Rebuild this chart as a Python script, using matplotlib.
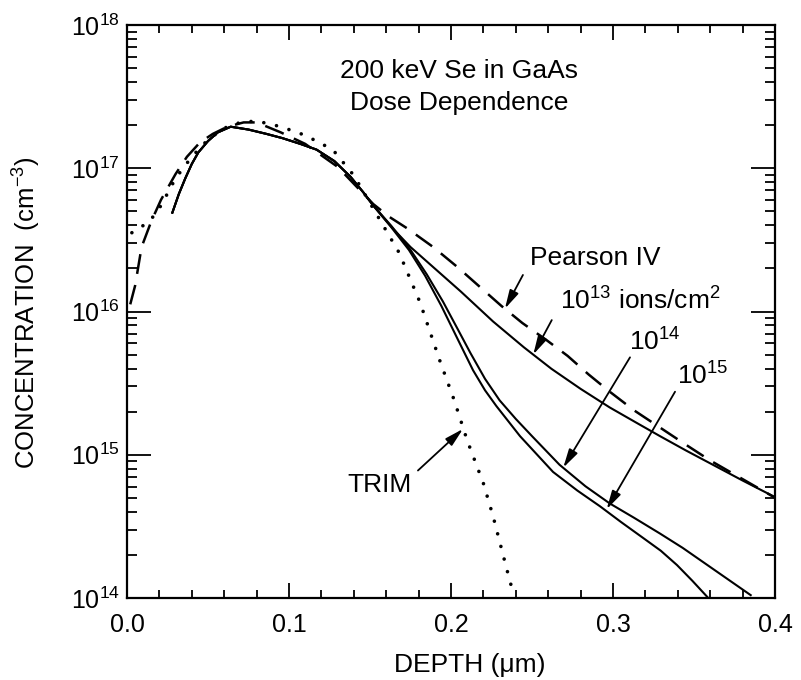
"""Se implant profiles in GaAs: TRIM, Pearson IV and measured dose dependence."""

import matplotlib

matplotlib.use("Agg")

import matplotlib.pyplot as plt  # noqa: E402
import numpy as np  # noqa: E402
from matplotlib.ticker import LogLocator, MultipleLocator  # noqa: E402

plt.rcParams["font.family"] = ["Liberation Sans", "DejaVu Sans"]
plt.rcParams["mathtext.fontset"] = "custom"
plt.rcParams["mathtext.rm"] = "Liberation Sans"
plt.rcParams["mathtext.it"] = "Liberation Sans:italic"
plt.rcParams["mathtext.bf"] = "Liberation Sans:bold"

# depth in um, concentration as log10(cm^-3)
pearson_depth = [0.002, 0.005, 0.009, 0.015, 0.021, 0.030, 0.037, 0.045, 0.053,
                 0.062, 0.072, 0.080, 0.095, 0.110, 0.130, 0.141, 0.152, 0.162,
                 0.173, 0.189, 0.204, 0.218, 0.231, 0.244, 0.259, 0.272, 0.285,
                 0.298, 0.313, 0.329, 0.345, 0.360, 0.380, 0.400]
pearson_log = [16.05, 16.18, 16.45, 16.63, 16.78, 16.96, 17.08, 17.18, 17.24,
               17.29, 17.32, 17.32, 17.25, 17.17, 17.01, 16.88, 16.75, 16.66,
               16.58, 16.45, 16.31, 16.17, 16.04, 15.92, 15.80, 15.69, 15.56,
               15.44, 15.31, 15.19, 15.07, 14.96, 14.83, 14.70]

trim_depth = [0.003, 0.010, 0.016, 0.021, 0.030, 0.040, 0.050, 0.060, 0.070,
              0.080, 0.095, 0.110, 0.127, 0.140, 0.154, 0.168, 0.181, 0.193,
              0.202, 0.210, 0.220, 0.226, 0.234, 0.238]
trim_log = [16.55, 16.60, 16.66, 16.74, 16.93, 17.08, 17.20, 17.28, 17.32,
            17.33, 17.29, 17.23, 17.13, 16.95, 16.68, 16.41, 16.06, 15.66,
            15.38, 15.10, 14.80, 14.57, 14.22, 14.05]

# measured profiles share the same near-surface part
head_depth = [0.028, 0.032, 0.036, 0.040, 0.044, 0.050, 0.056, 0.064, 0.075,
              0.086, 0.096, 0.107, 0.117, 0.128, 0.138, 0.146, 0.152]
head_log = [16.69, 16.82, 16.93, 17.03, 17.11, 17.19, 17.25, 17.29, 17.27,
            17.24, 17.21, 17.17, 17.13, 17.05, 16.94, 16.83, 16.74]

d13_depth = [0.164, 0.175, 0.185, 0.206, 0.226, 0.245, 0.262, 0.280, 0.298,
             0.315, 0.329, 0.345, 0.360, 0.380, 0.399]
d13_log = [16.58, 16.45, 16.35, 16.14, 15.93, 15.75, 15.60, 15.46, 15.33,
           15.22, 15.13, 15.03, 14.94, 14.82, 14.71]

d14_depth = [0.163, 0.175, 0.185, 0.195, 0.204, 0.212, 0.221, 0.230, 0.240,
             0.250, 0.267, 0.283, 0.298, 0.313, 0.329, 0.343, 0.357, 0.371,
             0.385]
d14_log = [16.60, 16.43, 16.26, 16.07, 15.88, 15.71, 15.53, 15.38, 15.25,
           15.13, 14.93, 14.78, 14.66, 14.56, 14.45, 14.35, 14.24, 14.13,
           14.02]

d15_depth = [0.163, 0.174, 0.184, 0.194, 0.204, 0.2136, 0.221, 0.228, 0.2426,
             0.263, 0.278, 0.292, 0.305, 0.3185, 0.3295, 0.3395, 0.349, 0.358,
             0.362]
d15_log = [16.59, 16.43, 16.25, 16.04, 15.81, 15.59, 15.45, 15.34, 15.13,
           14.88, 14.75, 14.64, 14.53, 14.42, 14.33, 14.23, 14.12, 14.01,
           13.96]

FS = 18
INK = "black"


def conc(vals):
    return 10.0 ** np.asarray(vals)


fig = plt.figure(figsize=(8.01, 6.8), dpi=100)
fig.patch.set_facecolor("white")
ax = fig.add_axes([127 / 801, 1 - 598 / 680, 648 / 801, 573 / 680])

ax.plot(pearson_depth, conc(pearson_log), color=INK, lw=1.8,
        linestyle=(0, (8, 4.5)))
ax.plot(trim_depth, conc(trim_log), color=INK, lw=2.6,
        linestyle=(0, (0.01, 3.6)), dash_capstyle="round")
for tail_d, tail_l in ((d13_depth, d13_log), (d14_depth, d14_log),
                       (d15_depth, d15_log)):
    ax.plot(head_depth + tail_d, conc(head_log + tail_l), color=INK, lw=1.5,
            solid_joinstyle="round")

ax.set_yscale("log")
ax.set_xlim(0.0, 0.4)
ax.set_ylim(1e14, 1e18)
ax.xaxis.set_major_locator(MultipleLocator(0.1))
ax.xaxis.set_minor_locator(MultipleLocator(0.02))
ax.yaxis.set_major_locator(LogLocator(base=10, numticks=10))
ax.yaxis.set_minor_locator(LogLocator(base=10, subs=range(2, 10), numticks=50))
ax.set_xticklabels([f"{v:.1f}" for v in ax.get_xticks()])

ax.tick_params(which="both", direction="in", top=True, right=True,
               colors=INK, width=1.3, labelsize=FS)
ax.tick_params(axis="y", which="major", length=17, pad=5)
ax.tick_params(axis="y", which="minor", length=7)
ax.tick_params(axis="x", which="major", length=11, pad=11)
ax.tick_params(axis="x", which="minor", length=5.5)
for sp in ax.spines.values():
    sp.set_linewidth(1.6)

ax.set_xlabel("DEPTH (\u03bcm)", fontsize=FS + 1)
ax.xaxis.label.set_va("center")
ax.xaxis.set_label_coords(0.529, -0.117)
ax.set_ylabel(r"CONCENTRATION  (cm$^{\mathdefault{-3}}$)", fontsize=FS + 0.5)
ax.yaxis.label.set_va("center")
ax.yaxis.set_label_coords(-0.154, 0.497)

ax.text(0.5116, 0.9075, "200 keV Se in GaAs", transform=ax.transAxes,
        ha="center", va="baseline", fontsize=FS + 1)
ax.text(0.5123, 0.8517, "Dose Dependence", transform=ax.transAxes,
        ha="center", va="baseline", fontsize=FS + 1)

arrow = dict(arrowstyle="-|>,head_length=0.7,head_width=0.18", color=INK,
             lw=1.3, shrinkA=0, shrinkB=0, mutation_scale=16)
# (text, text x, text log-y baseline, arrow start, arrow tip)
labels = [
    ("Pearson IV", 0.2889, 16.325, (0.2444, 16.255), (0.2333, 16.02)),
    (r"$\mathdefault{10^{13}}$ ions/cm$^{\mathdefault{2}}$", 0.3167, 16.01,
     (0.2622, 15.94), (0.2508, 15.70)),
    (r"$\mathdefault{10^{14}}$", 0.3259, 15.73, (0.3105, 15.68), (0.2693, 14.91)),
    (r"$\mathdefault{10^{15}}$", 0.3556, 15.487, (0.3383, 15.44), (0.2961, 14.62)),
    ("TRIM", 0.1556, 14.742, (0.1796, 14.89), (0.2074, 15.18)),
]
for txt, tx, ty, start, tip in labels:
    ax.text(tx, 10 ** ty, txt, ha="center", va="baseline", fontsize=FS + 1)
    ax.annotate("", xy=(tip[0], 10 ** tip[1]), xytext=(start[0], 10 ** start[1]),
                arrowprops=arrow)

fig.savefig("out.png", dpi=100, facecolor="white")
plt.close(fig)
